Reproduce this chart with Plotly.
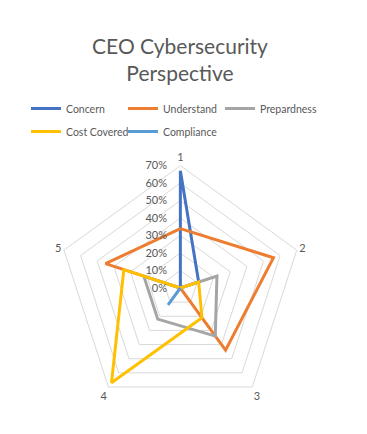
import plotly.graph_objects as go

categories = ["1", "2", "3", "4", "5"]
series_names = ["Concern", "Understand", "Prepardness", "Cost Covered", "Compliance"]
concern = [67, 11, 0, 0, 0]
understand = [34, 56, 44, 0, 45]
prepardness = [0, 22, 34, 22, 22]
cost_covered = [0, 11, 21, 67, 34]
compliance = [0, 0, 0, 12, 0]
radial_ticks = [0, 10, 20, 30, 40, 50, 60, 70]
radial_labels = ["0%", "10%", "20%", "30%", "40%", "50%", "60%", "70%"]

colors = ["#4472C4", "#ED7D31", "#A5A5A5", "#FFC000", "#5B9BD5"]
all_values = [concern, understand, prepardness, cost_covered, compliance]
legend_ids = ["legend", "legend", "legend", "legend2", "legend2"]

fig = go.Figure()
for name, vals, col, lg in zip(series_names, all_values, colors, legend_ids):
    fig.add_trace(go.Scatterpolar(
        r=list(vals) + [vals[0]],
        theta=categories + [categories[0]],
        mode="lines",
        name=name,
        legend=lg,
        line=dict(color=col, width=3),
    ))

txt = "#595959"
grid = "#D9D9D9"
leg_common = dict(orientation="h", xanchor="left", yanchor="top",
                  entrywidth=52, entrywidthmode="pixels", itemwidth=30,
                  font=dict(size=10.5, color=txt), bgcolor="rgba(0,0,0,0)")
fig.update_layout(
    width=367, height=434,
    margin=dict(l=0, r=0, t=0, b=0),
    paper_bgcolor="white",
    font=dict(family="Lato, 'Open Sans', sans-serif", color=txt),
    title=dict(text="CEO Cybersecurity<br>Perspective", x=0.4687, xanchor="center",
               y=0.895, yanchor="middle",
               font=dict(size=21, color=txt)),
    legend=dict(x=0.049, y=0.8018, **leg_common),
    legend2=dict(x=0.049, y=0.7488, **leg_common),
    polar=dict(
        domain=dict(x=[0.1362, 0.8031], y=[0.0728, 0.6369]),
        gridshape="linear",
        bgcolor="white",
        radialaxis=dict(range=[0, 70], tickvals=radial_ticks, ticktext=radial_labels,
                        angle=90, tickangle=90, side="counterclockwise", showline=False,
                        gridcolor=grid, gridwidth=1,
                        ticks="outside", ticklen=9, tickcolor="rgba(0,0,0,0)",
                        tickfont=dict(size=11, color=txt)),
        angularaxis=dict(categoryorder="array", categoryarray=categories,
                         rotation=90, direction="clockwise",
                         showgrid=False, linecolor=grid, linewidth=1, ticks="",
                         tickfont=dict(size=11, color=txt)),
    ),
)

fig.write_html("out.html")
